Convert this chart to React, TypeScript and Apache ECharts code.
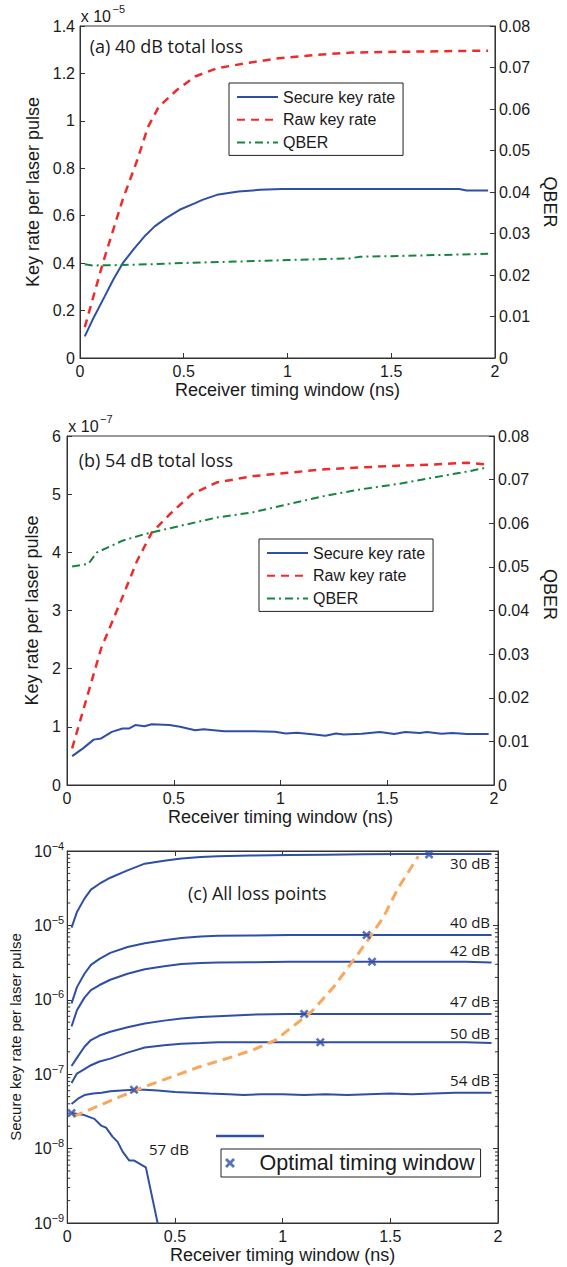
import React, { useEffect, useRef } from "react";
import * as echarts from "echarts";

// ---------- Panel (a): 40 dB total loss (key rates in units of 1e-5) ----------
const xSecureA = [0.023, 0.06, 0.119, 0.16, 0.206, 0.26, 0.31, 0.36, 0.415, 0.48, 0.555, 0.59, 0.66, 0.764, 0.868, 0.973, 1.2, 1.5, 1.828, 1.863, 1.967];
const secureA = [0.091, 0.16, 0.26, 0.33, 0.4, 0.46, 0.512, 0.555, 0.59, 0.625, 0.653, 0.667, 0.688, 0.702, 0.709, 0.713, 0.713, 0.713, 0.713, 0.706, 0.706];
const xRawA = [0.023, 0.11, 0.205, 0.276, 0.328, 0.38, 0.467, 0.555, 0.66, 0.8, 0.94, 1.13, 1.31, 1.6, 1.967];
const rawA = [0.13, 0.4, 0.666, 0.835, 0.975, 1.06, 1.13, 1.187, 1.222, 1.243, 1.262, 1.278, 1.288, 1.292, 1.296];
const xQberA = [0.023, 0.06, 0.2, 0.35, 0.5, 0.8, 1.0, 1.3, 1.35, 1.55, 1.8, 1.967];
const qberA = [0.0226, 0.0223, 0.0224, 0.0226, 0.0229, 0.0233, 0.0236, 0.024, 0.0244, 0.0246, 0.0249, 0.0251];

// ---------- Panel (b): 54 dB total loss (key rates in units of 1e-7) ----------
const xSecureB = [0.024, 0.075, 0.125, 0.16, 0.21, 0.26, 0.29, 0.32, 0.363, 0.397, 0.48, 0.53, 0.6, 0.64, 0.736, 0.87, 0.974, 1.025, 1.076, 1.16, 1.21, 1.26, 1.296, 1.38, 1.466, 1.533, 1.584, 1.652, 1.686, 1.754, 1.805, 1.873, 1.975];
const secureB = [0.497, 0.63, 0.78, 0.8, 0.914, 0.97, 0.97, 1.03, 1.01, 1.045, 1.03, 1.0, 0.943, 0.96, 0.926, 0.926, 0.914, 0.886, 0.9, 0.87, 0.845, 0.886, 0.87, 0.88, 0.91, 0.875, 0.91, 0.895, 0.91, 0.88, 0.895, 0.875, 0.875];
const xRawB = [0.024, 0.16, 0.253, 0.329, 0.397, 0.48, 0.584, 0.7, 0.87, 1.04, 1.21, 1.38, 1.55, 1.72, 1.87, 1.97];
const rawB = [0.63, 2.35, 3.17, 3.86, 4.34, 4.65, 5.0, 5.2, 5.31, 5.37, 5.43, 5.46, 5.49, 5.51, 5.54, 5.51];
const xQberB = [0.024, 0.1, 0.14, 0.26, 0.363, 0.53, 0.7, 0.87, 1.04, 1.21, 1.38, 1.55, 1.72, 1.89, 1.97];
const qberB = [0.0501, 0.0507, 0.0533, 0.056, 0.0575, 0.0594, 0.0613, 0.0625, 0.0644, 0.0663, 0.0678, 0.069, 0.0705, 0.072, 0.0728];

// ---------- Panel (c): all loss points (secure key rate, log scale) ----------
const xC = [0.02, 0.045, 0.08, 0.11, 0.15, 0.2, 0.28, 0.36, 0.45, 0.53, 0.62, 0.7, 0.85, 1.03, 1.2, 1.37, 1.55, 1.7, 1.85, 1.97];
const loss30 = [9.33e-6, 1.51e-5, 2.29e-5, 3.02e-5, 3.63e-5, 4.37e-5, 5.5e-5, 6.76e-5, 7.41e-5, 7.94e-5, 8.32e-5, 8.51e-5, 8.71e-5, 8.81e-5, 8.91e-5, 9.02e-5, 9.12e-5, 9.12e-5, 9.12e-5, 9.12e-5];
const loss40 = [8.91e-7, 1.48e-6, 2.24e-6, 2.95e-6, 3.55e-6, 4.27e-6, 5.13e-6, 5.75e-6, 6.31e-6, 6.76e-6, 7.08e-6, 7.24e-6, 7.33e-6, 7.41e-6, 7.41e-6, 7.41e-6, 7.41e-6, 7.41e-6, 7.41e-6, 7.41e-6];
const loss42 = [4.37e-7, 7.24e-7, 1.07e-6, 1.35e-6, 1.58e-6, 1.86e-6, 2.24e-6, 2.57e-6, 2.82e-6, 3.02e-6, 3.13e-6, 3.16e-6, 3.2e-6, 3.24e-6, 3.24e-6, 3.24e-6, 3.24e-6, 3.24e-6, 3.24e-6, 3.16e-6];
const loss47 = [1.29e-7, 1.66e-7, 2.34e-7, 2.88e-7, 3.31e-7, 3.72e-7, 4.27e-7, 4.79e-7, 5.25e-7, 5.62e-7, 5.89e-7, 6.03e-7, 6.31e-7, 6.46e-7, 6.46e-7, 6.46e-7, 6.46e-7, 6.46e-7, 6.46e-7, 6.46e-7];
const loss50 = [7.59e-8, 1.02e-7, 1.17e-7, 1.32e-7, 1.48e-7, 1.62e-7, 1.95e-7, 2.29e-7, 2.45e-7, 2.57e-7, 2.63e-7, 2.69e-7, 2.69e-7, 2.69e-7, 2.69e-7, 2.69e-7, 2.69e-7, 2.69e-7, 2.69e-7, 2.63e-7];
const x54 = [0.02, 0.05, 0.08, 0.12, 0.16, 0.2, 0.25, 0.31, 0.36, 0.42, 0.5, 0.58, 0.66, 0.75, 0.82, 0.9, 1.0, 1.1, 1.2, 1.3, 1.4, 1.5, 1.6, 1.7, 1.8, 1.9, 1.97];
const loss54 = [3.98e-8, 4.68e-8, 5.25e-8, 5.5e-8, 5.62e-8, 5.89e-8, 6.03e-8, 6.17e-8, 6.17e-8, 6.03e-8, 5.75e-8, 5.62e-8, 5.5e-8, 5.37e-8, 5.25e-8, 5.37e-8, 5.37e-8, 5.25e-8, 5.37e-8, 5.25e-8, 5.37e-8, 5.5e-8, 5.37e-8, 5.5e-8, 5.62e-8, 5.62e-8, 5.62e-8];
const x57 = [0.02, 0.079, 0.126, 0.157, 0.18, 0.21, 0.234, 0.257, 0.288, 0.311, 0.365, 0.419, 0.45];
const loss57 = [3.02e-8, 2.82e-8, 2.51e-8, 2.04e-8, 1.91e-8, 1.45e-8, 1.23e-8, 9.1e-9, 6.9e-9, 6.9e-9, 5.6e-9, 1.02e-9, 4.0e-10];
const xOpt = [1.68, 1.39, 1.415, 1.1, 1.175, 0.31, 0.02];
const optRate = [9.0e-5, 7.41e-6, 3.24e-6, 6.46e-7, 2.69e-7, 6.17e-8, 3.0e-8];
const xTrend = [0.028, 0.246, 0.36, 0.615, 0.774, 0.866, 0.967, 1.134, 1.234, 1.335, 1.4, 1.47, 1.536, 1.63];
const trend = [2.69e-8, 5.0e-8, 6.8e-8, 1.26e-7, 1.74e-7, 2.14e-7, 2.88e-7, 6.9e-7, 1.45e-6, 3.6e-6, 6.6e-6, 1.32e-5, 3.16e-5, 8.5e-5];

const lossLabels = ["30 dB", "40 dB", "42 dB", "47 dB", "50 dB", "54 dB", "57 dB"];
const xTicksLabels = ["0", "0.5", "1", "1.5", "2"];
const minorMult = [2, 3, 4, 5, 6, 7, 8, 9];
const decades = [1e-9, 1e-8, 1e-7, 1e-6, 1e-5];

const BLUE = "#2f4fa6";
const RED = "#ee2b2b";
const GREEN = "#17853f";
const ORANGE = "#f9a75c";
const AX = "#333333";
const TXT = "#1a1a1a";
const SANS = "Liberation Sans";
const ANNOT = "Open Sans";

const pairs = (xs: number[], ys: number[]) => xs.map((x, i) => [x, ys[i]]);

const axisBase = {
  axisLine: { show: true, onZero: false, lineStyle: { color: AX, width: 1 } },
  axisTick: { show: true, inside: true, length: 5, lineStyle: { color: AX } },
  splitLine: { show: false },
  nameTextStyle: { color: TXT, fontSize: 18, fontFamily: SANS },
};
const lbl = (margin: number) => ({ color: TXT, fontSize: 16, fontFamily: SANS, margin });

function xAxisFor(grid: number) {
  return {
    ...axisBase,
    type: "value",
    gridIndex: grid,
    min: 0,
    max: 2,
    interval: 0.5,
    name: "Receiver timing window (ns)",
    nameLocation: "middle",
    nameGap: 23,
    axisLabel: { ...lbl(5), formatter: (v: number) => xTicksLabels[Math.round(v * 2)] },
  };
}

function lineSeries(name: string, xi: number, yi: number, xs: number[], ys: number[], color: string, width: number, type: any) {
  return {
    name,
    type: "line",
    xAxisIndex: xi,
    yAxisIndex: yi,
    data: pairs(xs, ys),
    symbol: "none",
    lineStyle: { color, width, type },
    itemStyle: { color },
    z: 3,
  };
}

export default function App() {
  const ref = useRef<HTMLDivElement>(null);
  useEffect(() => {
    if (!ref.current) return;
    const chart = echarts.init(ref.current, null, { renderer: "svg" });
    const legendText = { fontSize: 16, fontFamily: SANS, color: TXT };
    const dbText = (text: string, x: number, y: number, align = "right") => ({
      type: "text",
      x,
      y,
      style: { text, fontSize: 15, fontFamily: ANNOT, fill: TXT, align, verticalAlign: "middle" },
    });
    const option: any = {
      animation: false,
      backgroundColor: "#fff",
      grid: [
        { left: 80, top: 26, width: 415, height: 332, show: true, borderColor: AX, borderWidth: 1, backgroundColor: "transparent" },
        { left: 67, top: 436, width: 427, height: 349, show: true, borderColor: AX, borderWidth: 1, backgroundColor: "transparent" },
        { left: 66, top: 851, width: 432, height: 372, show: true, borderColor: AX, borderWidth: 1, backgroundColor: "transparent" },
      ],
      xAxis: [
        xAxisFor(0),
        xAxisFor(1),
        xAxisFor(2),
        { ...axisBase, type: "value", gridIndex: 2, position: "top", min: 0, max: 2, interval: 0.5, axisLabel: { show: false } },
      ],
      yAxis: [
        { ...axisBase, type: "value", gridIndex: 0, min: 0, max: 1.4, interval: 0.2, name: "Key rate per laser pulse", nameLocation: "middle", nameGap: 30, axisLabel: lbl(5) },
        { ...axisBase, type: "value", gridIndex: 0, position: "right", min: 0, max: 0.08, interval: 0.01, name: "QBER", nameLocation: "middle", nameRotate: -90, nameGap: 44, axisLabel: lbl(4), nameTextStyle: { ...axisBase.nameTextStyle, padding: [0, 0, 0, 20] } },
        { ...axisBase, type: "value", gridIndex: 1, min: 0, max: 6, interval: 1, name: "Key rate per laser pulse", nameLocation: "middle", nameGap: 18, axisLabel: lbl(6) },
        { ...axisBase, type: "value", gridIndex: 1, position: "right", min: 0, max: 0.08, interval: 0.01, name: "QBER", nameLocation: "middle", nameRotate: -90, nameGap: 47, axisLabel: lbl(4), nameTextStyle: { ...axisBase.nameTextStyle, padding: [0, 32, 0, 0] } },
        {
          ...axisBase,
          type: "log",
          logBase: 10,
          gridIndex: 2,
          min: 1e-9,
          max: 1e-4,
          name: "Secure key rate per laser pulse",
          nameLocation: "middle",
          nameGap: 36,
          nameTextStyle: { color: TXT, fontSize: 15, fontFamily: SANS },
          axisLabel: {
            margin: 3,
            formatter: (v: number) => `{b|10}{s|−${Math.abs(Math.round(Math.log10(v)))}}`,
            rich: {
              b: { fontSize: 16, fontFamily: SANS, color: TXT, lineHeight: 22 },
              s: { fontSize: 11, fontFamily: SANS, color: TXT, lineHeight: 11, verticalAlign: "top" },
            },
          },
        },
        { ...axisBase, type: "log", logBase: 10, gridIndex: 2, position: "right", min: 1e-9, max: 1e-4, axisLabel: { show: false } },
      ],
      legend: [
        {
          data: ["Secure key rate", "Raw key rate", "QBER"],
          orient: "vertical", left: 229, top: 83, padding: [6, 8, 5, 7],
          itemWidth: 41, itemHeight: 12, itemGap: 6.7, textStyle: legendText,
          itemStyle: { opacity: 0 },
          borderColor: "#222", borderWidth: 1, backgroundColor: "#fff", selectedMode: false,
        },
        {
          data: ["Secure key rate", "Raw key rate", "QBER"],
          orient: "vertical", left: 259, top: 539, padding: [6, 8, 5, 7],
          itemWidth: 41, itemHeight: 12, itemGap: 6.7, textStyle: legendText,
          itemStyle: { opacity: 0 },
          borderColor: "#222", borderWidth: 1, backgroundColor: "#fff", selectedMode: false,
        },
        {
          data: ["Optimal timing window"],
          orient: "horizontal", left: 221, top: 1149, padding: [3, 6, 3, 4],
          itemWidth: 29, itemHeight: 10, textStyle: { fontSize: 21.5, fontFamily: SANS, color: TXT, padding: [0, 0, 0, 10] },
          borderColor: "#222", borderWidth: 1, backgroundColor: "#fff", selectedMode: false,
        },
      ],
      series: [
        lineSeries("Secure key rate", 0, 0, xSecureA, secureA, BLUE, 2, "solid"),
        lineSeries("Raw key rate", 0, 0, xRawA, rawA, RED, 2.5, [8, 6]),
        lineSeries("QBER", 0, 1, xQberA, qberA, GREEN, 2, [8, 4, 2, 4]),
        lineSeries("Secure key rate", 1, 2, xSecureB, secureB, BLUE, 2, "solid"),
        lineSeries("Raw key rate", 1, 2, xRawB, rawB, RED, 2.5, [8, 6]),
        lineSeries("QBER", 1, 3, xQberB, qberB, GREEN, 2, [8, 4, 2, 4]),
        lineSeries(lossLabels[0], 2, 4, xC, loss30, BLUE, 2, "solid"),
        lineSeries(lossLabels[1], 2, 4, xC, loss40, BLUE, 2, "solid"),
        lineSeries(lossLabels[2], 2, 4, xC, loss42, BLUE, 2, "solid"),
        lineSeries(lossLabels[3], 2, 4, xC, loss47, BLUE, 2, "solid"),
        lineSeries(lossLabels[4], 2, 4, xC, loss50, BLUE, 2, "solid"),
        lineSeries(lossLabels[5], 2, 4, x54, loss54, BLUE, 2, "solid"),
        lineSeries(lossLabels[6], 2, 4, x57, loss57, BLUE, 2, "solid"),
        lineSeries("Optimal trend", 2, 4, xTrend, trend, ORANGE, 3, [10, 6]),
        {
          name: "Optimal timing window",
          type: "scatter",
          xAxisIndex: 2,
          yAxisIndex: 4,
          data: pairs(xOpt, optRate),
          symbol: "path://M2,0L5,3L8,0L10,2L7,5L10,8L8,10L5,7L2,10L0,8L3,5L0,2Z",
          symbolSize: 9,
          itemStyle: { color: BLUE },
          z: 5,
        },
        {
          type: "custom",
          xAxisIndex: 2,
          yAxisIndex: 4,
          silent: true,
          clip: false,
          data: decades.flatMap((d) => minorMult.map((m) => [0, m * d])),
          renderItem: (params: any, api: any) => {
            const v = api.value(1);
            const p = api.coord([0, v]);
            const q = api.coord([2, v]);
            const st = { stroke: AX, lineWidth: 1 };
            return {
              type: "group",
              children: [
                { type: "line", shape: { x1: p[0], y1: p[1], x2: p[0] + 3, y2: p[1] }, style: st },
                { type: "line", shape: { x1: q[0] - 3, y1: q[1], x2: q[0], y2: q[1] }, style: st },
              ],
            };
          },
        },
      ],
      graphic: [
        { type: "text", x: 89.7, y: 46, style: { text: "(a) 40 dB total loss", fontSize: 18, fontFamily: ANNOT, fill: TXT, verticalAlign: "middle" } },
        { type: "text", x: 78.8, y: 460, style: { text: "(b) 54 dB total loss", fontSize: 18, fontFamily: ANNOT, fill: TXT, verticalAlign: "middle" } },
        { type: "text", x: 188, y: 893, style: { text: "(c) All loss points", fontSize: 18, fontFamily: ANNOT, fill: TXT, verticalAlign: "middle" } },
        { type: "text", x: 80.7, y: 16.5, style: { text: "x 10", fontSize: 16, fontFamily: SANS, fill: TXT, verticalAlign: "middle" } },
        { type: "text", x: 112.5, y: 8.5, style: { text: "−5", fontSize: 11, fontFamily: SANS, fill: TXT, verticalAlign: "middle" } },
        { type: "text", x: 68.3, y: 426, style: { text: "x 10", fontSize: 16, fontFamily: SANS, fill: TXT, verticalAlign: "middle" } },
        { type: "text", x: 100, y: 419, style: { text: "−7", fontSize: 11, fontFamily: SANS, fill: TXT, verticalAlign: "middle" } },
        dbText(lossLabels[0], 490, 863),
        dbText(lossLabels[1], 490, 922),
        dbText(lossLabels[2], 490, 950),
        dbText(lossLabels[3], 490, 1001),
        dbText(lossLabels[4], 490, 1033),
        dbText(lossLabels[5], 490, 1080),
        dbText(lossLabels[6], 149, 1149, "left"),
        { type: "line", shape: { x1: 216, y1: 1136, x2: 264, y2: 1136 }, style: { stroke: BLUE, lineWidth: 2.5 } },
      ],
    };
    chart.setOption(option);
    return () => chart.dispose();
  }, []);
  return (
    <div
      ref={ref}
      style={{ position: "absolute", left: 0, top: 0, width: 567, height: 1267, background: "#fff" }}
    />
  );
}
